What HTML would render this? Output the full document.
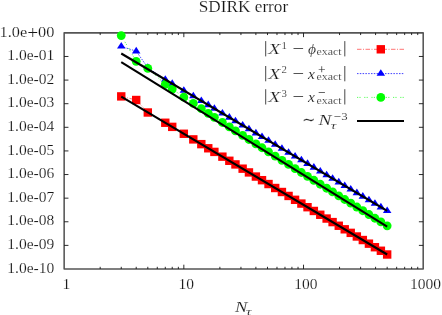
<!DOCTYPE html>
<html><head><meta charset="utf-8"><title>SDIRK error</title>
<style>
html,body{margin:0;padding:0;background:#fff;}
body{width:442px;height:315px;overflow:hidden;font-family:"Liberation Serif",serif;}
svg{display:block;will-change:transform;}
text{font-family:"Liberation Serif",serif;fill:#151515;stroke:#fff;stroke-width:0.16px;}
.ns{stroke:none;}
.i{font-style:italic;}
</style></head><body>
<svg width="442" height="315" viewBox="0 0 442 315">
<rect x="0" y="0" width="442" height="315" fill="#fff"/>

<text x="243.5" y="12.4" font-size="16" text-anchor="middle" textLength="89.4" lengthAdjust="spacingAndGlyphs">SDIRK error</text>
<rect x="64.15" y="32.85" width="359.04999999999995" height="236.15" fill="none" stroke="#555" stroke-width="1.55" stroke-linejoin="round"/>
<path d="M64.15 56.47h4.3M423.2 56.47h-4.3M64.15 80.08h4.3M423.2 80.08h-4.3M64.15 103.69h4.3M423.2 103.69h-4.3M64.15 127.31h4.3M423.2 127.31h-4.3M64.15 150.93h4.3M423.2 150.93h-4.3M64.15 174.54h4.3M423.2 174.54h-4.3M64.15 198.16h4.3M423.2 198.16h-4.3M64.15 221.77h4.3M423.2 221.77h-4.3M64.15 245.39h4.3M423.2 245.39h-4.3M100.18 269.0v-2.2M100.18 32.85v2.2M121.25 269.0v-2.2M121.25 32.85v2.2M136.21 269.0v-2.2M136.21 32.85v2.2M147.81 269.0v-2.2M147.81 32.85v2.2M157.28 269.0v-2.2M157.28 32.85v2.2M165.29 269.0v-2.2M165.29 32.85v2.2M172.23 269.0v-2.2M172.23 32.85v2.2M178.36 269.0v-2.2M178.36 32.85v2.2M183.83 269.0v-4.3M183.83 32.85v4.3M219.86 269.0v-2.2M219.86 32.85v2.2M240.94 269.0v-2.2M240.94 32.85v2.2M255.89 269.0v-2.2M255.89 32.85v2.2M267.49 269.0v-2.2M267.49 32.85v2.2M276.97 269.0v-2.2M276.97 32.85v2.2M284.98 269.0v-2.2M284.98 32.85v2.2M291.92 269.0v-2.2M291.92 32.85v2.2M298.04 269.0v-2.2M298.04 32.85v2.2M303.52 269.0v-4.3M303.52 32.85v4.3M339.54 269.0v-2.2M339.54 32.85v2.2M360.62 269.0v-2.2M360.62 32.85v2.2M375.57 269.0v-2.2M375.57 32.85v2.2M387.17 269.0v-2.2M387.17 32.85v2.2M396.65 269.0v-2.2M396.65 32.85v2.2M404.66 269.0v-2.2M404.66 32.85v2.2M411.60 269.0v-2.2M411.60 32.85v2.2M417.72 269.0v-2.2M417.72 32.85v2.2" stroke="#151515" stroke-width="0.9" fill="none"/>
<text x="-0.4" y="36.55" font-size="15.5" textLength="54.8" lengthAdjust="spacingAndGlyphs">1.0e<tspan font-size="18.5" dy="2.3">+</tspan><tspan dy="-2.3">00</tspan></text>
<text x="54.3" y="60.17" font-size="15.5" text-anchor="end" textLength="47" lengthAdjust="spacingAndGlyphs">1.0e-01</text>
<text x="54.3" y="83.78" font-size="15.5" text-anchor="end" textLength="47" lengthAdjust="spacingAndGlyphs">1.0e-02</text>
<text x="54.3" y="107.39" font-size="15.5" text-anchor="end" textLength="47" lengthAdjust="spacingAndGlyphs">1.0e-03</text>
<text x="54.3" y="131.01" font-size="15.5" text-anchor="end" textLength="47" lengthAdjust="spacingAndGlyphs">1.0e-04</text>
<text x="54.3" y="154.62" font-size="15.5" text-anchor="end" textLength="47" lengthAdjust="spacingAndGlyphs">1.0e-05</text>
<text x="54.3" y="178.24" font-size="15.5" text-anchor="end" textLength="47" lengthAdjust="spacingAndGlyphs">1.0e-06</text>
<text x="54.3" y="201.85" font-size="15.5" text-anchor="end" textLength="47" lengthAdjust="spacingAndGlyphs">1.0e-07</text>
<text x="54.3" y="225.47" font-size="15.5" text-anchor="end" textLength="47" lengthAdjust="spacingAndGlyphs">1.0e-08</text>
<text x="54.3" y="249.09" font-size="15.5" text-anchor="end" textLength="47" lengthAdjust="spacingAndGlyphs">1.0e-09</text>
<text x="54.3" y="272.70" font-size="15.5" text-anchor="end" textLength="47" lengthAdjust="spacingAndGlyphs">1.0e-10</text>
<text x="66.45" y="288.7" font-size="15.5" text-anchor="middle">1</text>
<text x="186.13" y="288.7" font-size="15.5" text-anchor="middle">10</text>
<text x="305.82" y="288.7" font-size="15.5" text-anchor="middle">100</text>
<text x="425.50" y="288.7" font-size="15.5" text-anchor="middle">1000</text>
<text x="234.9" y="311.5" font-size="15.5" class="i" textLength="12.4" lengthAdjust="spacingAndGlyphs">N</text><text x="245.8" y="315.0" font-size="10.8" class="i" textLength="5.8" lengthAdjust="spacingAndGlyphs">τ</text>
<polyline points="121.25,96.40 136.21,100.00 147.81,112.50 165.29,122.75 172.23,126.87 183.83,133.76 193.31,139.39 201.32,144.14 208.26,148.27 214.39,151.90 222.40,156.66 229.34,160.78 235.46,164.42 242.64,168.68 248.95,172.42 255.89,176.55 262.01,180.18 268.52,184.04 275.20,188.01 281.92,192.00 288.56,195.95 295.07,199.81 301.39,203.57 307.52,207.20 313.85,210.96 320.26,214.77 326.63,218.55 332.60,222.10 338.76,225.75 344.73,229.30 350.73,232.86 356.85,236.49 362.83,240.04 368.93,243.67 374.92,247.22 380.88,250.76 387.17,254.50" fill="none" stroke="#ff0000" stroke-width="0.55" stroke-dasharray="4.5 1.5 1 1.5"/>
<g fill="#ff0000"><rect x="117.05" y="92.20" width="8.4" height="8.4"/><rect x="132.01" y="95.80" width="8.4" height="8.4"/><rect x="143.61" y="108.30" width="8.4" height="8.4"/><rect x="161.09" y="118.55" width="8.4" height="8.4"/><rect x="168.03" y="122.67" width="8.4" height="8.4"/><rect x="179.63" y="129.56" width="8.4" height="8.4"/><rect x="189.11" y="135.19" width="8.4" height="8.4"/><rect x="197.12" y="139.94" width="8.4" height="8.4"/><rect x="204.06" y="144.07" width="8.4" height="8.4"/><rect x="210.19" y="147.70" width="8.4" height="8.4"/><rect x="218.20" y="152.46" width="8.4" height="8.4"/><rect x="225.14" y="156.58" width="8.4" height="8.4"/><rect x="231.26" y="160.22" width="8.4" height="8.4"/><rect x="238.44" y="164.48" width="8.4" height="8.4"/><rect x="244.75" y="168.22" width="8.4" height="8.4"/><rect x="251.69" y="172.35" width="8.4" height="8.4"/><rect x="257.81" y="175.98" width="8.4" height="8.4"/><rect x="264.32" y="179.84" width="8.4" height="8.4"/><rect x="271.00" y="183.81" width="8.4" height="8.4"/><rect x="277.72" y="187.80" width="8.4" height="8.4"/><rect x="284.36" y="191.75" width="8.4" height="8.4"/><rect x="290.87" y="195.61" width="8.4" height="8.4"/><rect x="297.19" y="199.37" width="8.4" height="8.4"/><rect x="303.32" y="203.00" width="8.4" height="8.4"/><rect x="309.65" y="206.76" width="8.4" height="8.4"/><rect x="316.06" y="210.57" width="8.4" height="8.4"/><rect x="322.43" y="214.35" width="8.4" height="8.4"/><rect x="328.40" y="217.90" width="8.4" height="8.4"/><rect x="334.56" y="221.55" width="8.4" height="8.4"/><rect x="340.53" y="225.10" width="8.4" height="8.4"/><rect x="346.53" y="228.66" width="8.4" height="8.4"/><rect x="352.65" y="232.29" width="8.4" height="8.4"/><rect x="358.63" y="235.84" width="8.4" height="8.4"/><rect x="364.73" y="239.47" width="8.4" height="8.4"/><rect x="370.72" y="243.02" width="8.4" height="8.4"/><rect x="376.68" y="246.56" width="8.4" height="8.4"/><rect x="382.97" y="250.30" width="8.4" height="8.4"/></g>
<polyline points="121.25,46.40 136.21,51.20 147.81,67.70 165.29,79.57 172.23,83.68 183.83,90.54 193.31,96.15 201.32,100.89 208.26,105.00 214.39,108.63 222.40,113.37 229.34,117.48 235.46,121.10 242.64,125.35 248.95,129.08 255.89,133.19 262.01,136.82 268.52,140.67 275.20,144.62 281.92,148.60 288.56,152.53 295.07,156.38 301.39,160.13 307.52,163.75 313.85,167.50 320.26,171.29 326.63,175.06 332.60,178.60 338.76,182.24 344.73,185.78 350.73,189.33 356.85,192.95 362.83,196.49 368.93,200.10 374.92,203.65 380.88,207.18 387.17,210.90" fill="none" stroke="#0000ff" stroke-width="0.75" stroke-dasharray="1.5 1.3"/>
<g fill="#0000ff"><path d="M121.25 42.00L117.00 48.60H125.50Z"/><path d="M136.21 46.80L131.96 53.40H140.46Z"/><path d="M147.81 63.30L143.56 69.90H152.06Z"/><path d="M165.29 75.17L161.04 81.77H169.54Z"/><path d="M172.23 79.28L167.98 85.88H176.48Z"/><path d="M183.83 86.14L179.58 92.74H188.08Z"/><path d="M193.31 91.75L189.06 98.35H197.56Z"/><path d="M201.32 96.49L197.07 103.09H205.57Z"/><path d="M208.26 100.60L204.01 107.20H212.51Z"/><path d="M214.39 104.23L210.14 110.83H218.64Z"/><path d="M222.40 108.97L218.15 115.57H226.65Z"/><path d="M229.34 113.08L225.09 119.68H233.59Z"/><path d="M235.46 116.70L231.21 123.30H239.71Z"/><path d="M242.64 120.95L238.39 127.55H246.89Z"/><path d="M248.95 124.68L244.70 131.28H253.20Z"/><path d="M255.89 128.79L251.64 135.39H260.14Z"/><path d="M262.01 132.42L257.76 139.02H266.26Z"/><path d="M268.52 136.27L264.27 142.87H272.77Z"/><path d="M275.20 140.22L270.95 146.82H279.45Z"/><path d="M281.92 144.20L277.67 150.80H286.17Z"/><path d="M288.56 148.13L284.31 154.73H292.81Z"/><path d="M295.07 151.98L290.82 158.58H299.32Z"/><path d="M301.39 155.73L297.14 162.33H305.64Z"/><path d="M307.52 159.35L303.27 165.95H311.77Z"/><path d="M313.85 163.10L309.60 169.70H318.10Z"/><path d="M320.26 166.89L316.01 173.49H324.51Z"/><path d="M326.63 170.66L322.38 177.26H330.88Z"/><path d="M332.60 174.20L328.35 180.80H336.85Z"/><path d="M338.76 177.84L334.51 184.44H343.01Z"/><path d="M344.73 181.38L340.48 187.98H348.98Z"/><path d="M350.73 184.93L346.48 191.53H354.98Z"/><path d="M356.85 188.55L352.60 195.15H361.10Z"/><path d="M362.83 192.09L358.58 198.69H367.08Z"/><path d="M368.93 195.70L364.68 202.30H373.18Z"/><path d="M374.92 199.25L370.67 205.85H379.17Z"/><path d="M380.88 202.78L376.63 209.38H385.13Z"/><path d="M387.17 206.50L382.92 213.10H391.42Z"/></g>
<polyline points="121.25,35.60 136.21,61.30 147.81,68.40 165.29,84.27 172.23,89.11 183.83,97.04 193.31,103.40 201.32,108.72 208.26,113.28 214.39,117.28 222.40,122.48 229.34,126.95 235.46,130.88 242.64,135.47 248.95,139.48 255.89,143.89 262.01,147.76 268.52,151.87 275.20,156.08 281.92,160.30 288.56,164.46 295.07,168.54 301.39,172.49 307.52,176.32 313.85,180.27 320.26,184.26 326.63,188.23 332.60,191.95 338.76,195.78 344.73,199.50 350.73,203.22 356.85,207.02 362.83,210.73 368.93,214.52 374.92,218.24 380.88,221.94 387.17,225.84" fill="none" stroke="#00ff00" stroke-width="0.65" stroke-dasharray="1.2 1.2 1.2 3.6"/>
<g fill="#00ff00"><circle cx="121.25" cy="35.60" r="4.4"/><circle cx="136.21" cy="61.30" r="4.4"/><circle cx="147.81" cy="68.40" r="4.4"/><circle cx="165.29" cy="84.27" r="4.4"/><circle cx="172.23" cy="89.11" r="4.4"/><circle cx="183.83" cy="97.04" r="4.4"/><circle cx="193.31" cy="103.40" r="4.4"/><circle cx="201.32" cy="108.72" r="4.4"/><circle cx="208.26" cy="113.28" r="4.4"/><circle cx="214.39" cy="117.28" r="4.4"/><circle cx="222.40" cy="122.48" r="4.4"/><circle cx="229.34" cy="126.95" r="4.4"/><circle cx="235.46" cy="130.88" r="4.4"/><circle cx="242.64" cy="135.47" r="4.4"/><circle cx="248.95" cy="139.48" r="4.4"/><circle cx="255.89" cy="143.89" r="4.4"/><circle cx="262.01" cy="147.76" r="4.4"/><circle cx="268.52" cy="151.87" r="4.4"/><circle cx="275.20" cy="156.08" r="4.4"/><circle cx="281.92" cy="160.30" r="4.4"/><circle cx="288.56" cy="164.46" r="4.4"/><circle cx="295.07" cy="168.54" r="4.4"/><circle cx="301.39" cy="172.49" r="4.4"/><circle cx="307.52" cy="176.32" r="4.4"/><circle cx="313.85" cy="180.27" r="4.4"/><circle cx="320.26" cy="184.26" r="4.4"/><circle cx="326.63" cy="188.23" r="4.4"/><circle cx="332.60" cy="191.95" r="4.4"/><circle cx="338.76" cy="195.78" r="4.4"/><circle cx="344.73" cy="199.50" r="4.4"/><circle cx="350.73" cy="203.22" r="4.4"/><circle cx="356.85" cy="207.02" r="4.4"/><circle cx="362.83" cy="210.73" r="4.4"/><circle cx="368.93" cy="214.52" r="4.4"/><circle cx="374.92" cy="218.24" r="4.4"/><circle cx="380.88" cy="221.94" r="4.4"/><circle cx="387.17" cy="225.84" r="4.4"/></g>
<line x1="121.25" y1="53.5" x2="387.17" y2="210.9" stroke="#000" stroke-width="2.05"/>
<line x1="121.25" y1="62.1" x2="387.17" y2="226.7" stroke="#000" stroke-width="2.05"/>
<line x1="121.25" y1="96.6" x2="387.17" y2="254.5" stroke="#000" stroke-width="2.05"/>
<line x1="357" y1="49.3" x2="404" y2="49.3" stroke="#ff0000" stroke-width="0.55" stroke-dasharray="4.5 1.5 1 1.5"/>
<rect x="376.6" y="45.099999999999994" width="8.4" height="8.4" fill="#ff0000"/>
<line x1="357" y1="73.6" x2="404" y2="73.6" stroke="#0000ff" stroke-width="0.75" stroke-dasharray="1.5 1.3"/>
<path d="M380.8 69.19999999999999L376.55 75.8H385.05Z" fill="#0000ff"/>
<line x1="357" y1="97.4" x2="404" y2="97.4" stroke="#00ff00" stroke-width="0.65" stroke-dasharray="1.2 1.2 1.2 3.6"/>
<circle cx="380.8" cy="97.4" r="4.4" fill="#00ff00"/>
<line x1="357" y1="121.0" x2="404" y2="121.0" stroke="#000" stroke-width="2.05"/>
<path d="M265.7 41.10v15.3M344.8 41.10v15.3" stroke="#333" stroke-width="0.9" fill="none"/><text x="268.3" y="53.9" font-size="15.5" class="i" textLength="12.1" lengthAdjust="spacingAndGlyphs">X</text><text x="281.5" y="48.50" font-size="10.8">1</text><text x="292.4" y="53.9" font-size="15.5" class="ns" textLength="11.6" lengthAdjust="spacingAndGlyphs">−</text><text x="308" y="53.9" font-size="15.5" class="i">ϕ</text><text x="316.6" y="55.30" font-size="10.8" textLength="25" lengthAdjust="spacingAndGlyphs">exact</text>
<path d="M265.7 66.00v15.3M344.8 66.00v15.3" stroke="#333" stroke-width="0.9" fill="none"/><text x="268.3" y="78.8" font-size="15.5" class="i" textLength="12.1" lengthAdjust="spacingAndGlyphs">X</text><text x="281.5" y="73.40" font-size="10.8">2</text><text x="292.4" y="78.8" font-size="15.5" class="ns" textLength="11.6" lengthAdjust="spacingAndGlyphs">−</text><text x="308" y="78.8" font-size="15.5" class="i">x</text><text x="316.6" y="80.40" font-size="10.8" textLength="25" lengthAdjust="spacingAndGlyphs">exact</text><text x="318" y="73.60" font-size="13.5" class="ns" textLength="7.6" lengthAdjust="spacingAndGlyphs">+</text>
<path d="M265.7 89.20v15.3M344.8 89.20v15.3" stroke="#333" stroke-width="0.9" fill="none"/><text x="268.3" y="102.0" font-size="15.5" class="i" textLength="12.1" lengthAdjust="spacingAndGlyphs">X</text><text x="281.5" y="96.60" font-size="10.8">3</text><text x="292.4" y="102.0" font-size="15.5" class="ns" textLength="11.6" lengthAdjust="spacingAndGlyphs">−</text><text x="308" y="102.0" font-size="15.5" class="i">x</text><text x="316.6" y="103.60" font-size="10.8" textLength="25" lengthAdjust="spacingAndGlyphs">exact</text><text x="318" y="96.80" font-size="13.5" class="ns" textLength="7.6" lengthAdjust="spacingAndGlyphs">−</text>
<text x="301.5" y="124.7" font-size="15.5">∼</text>
<text x="318.6" y="124.7" font-size="15.5" class="i" textLength="12.9" lengthAdjust="spacingAndGlyphs">N</text>
<text x="330.6" y="129.30" font-size="10.8" class="i" textLength="5.8" lengthAdjust="spacingAndGlyphs">τ</text>
<text x="333.4" y="119.60" font-size="10.8" class="ns" textLength="7.4" lengthAdjust="spacingAndGlyphs">−</text>
<text x="341.2" y="119.60" font-size="10.8" textLength="6.4" lengthAdjust="spacingAndGlyphs">3</text>
</svg></body></html>
